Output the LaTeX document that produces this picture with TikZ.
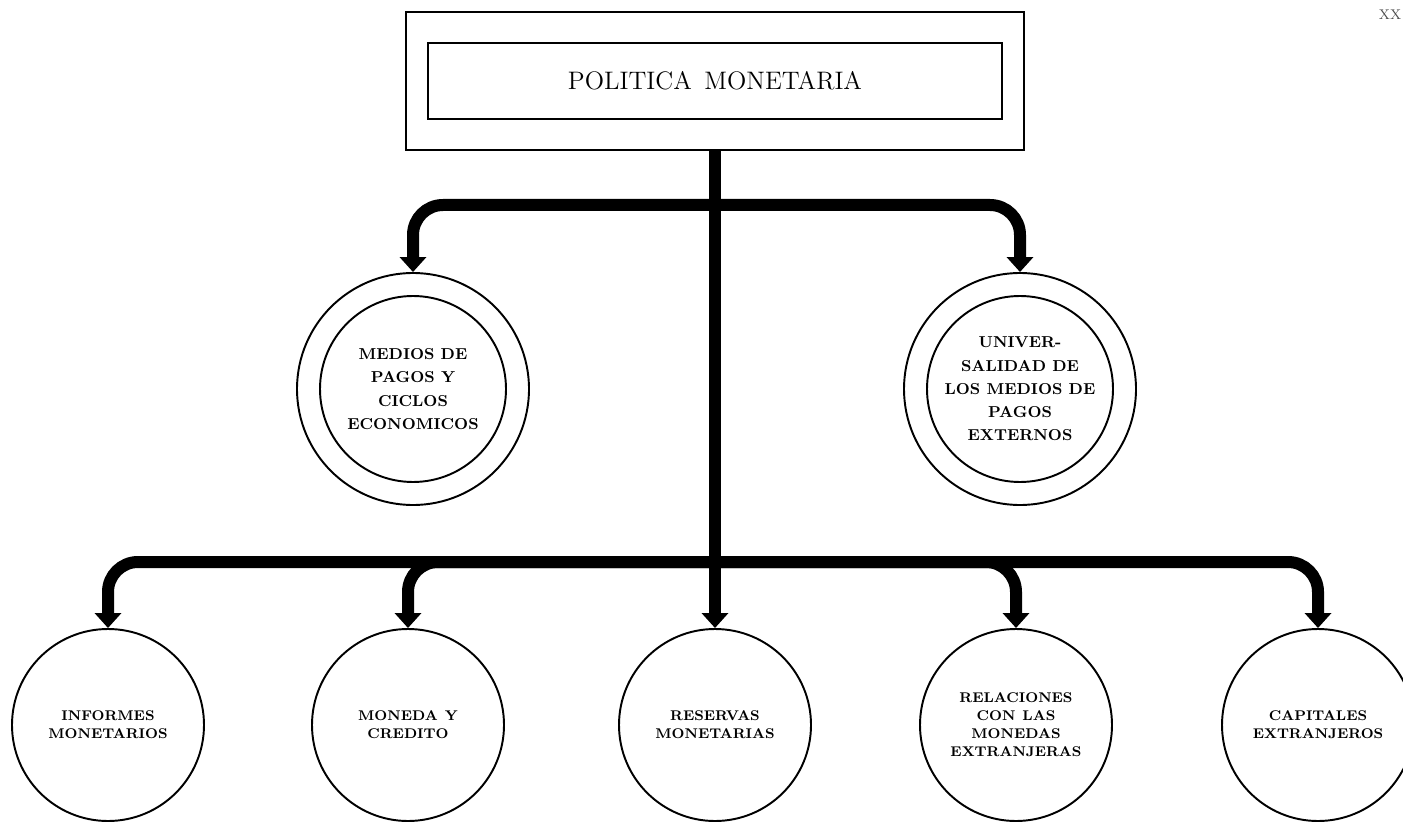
\documentclass[tikz,border=0pt]{standalone}
\usetikzlibrary{positioning,arrows.meta}

\begin{document}
\begin{tikzpicture}[
    font=\footnotesize,
    titlebox/.style={draw, line width=1.2pt, minimum width=12.36cm, minimum height=2.76cm},
    innerbox/.style={draw, line width=1.2pt, minimum width=11.48cm, minimum height=1.52cm, font=\Large},
    ring/.style={draw, circle, line width=1.1pt, minimum size=4.64cm, inner sep=0pt},
    core/.style={draw, circle, line width=1.1pt, minimum size=3.72cm, inner sep=0pt,
      align=center, font=\small\bfseries\linespread{1.2}\selectfont},
    leaf/.style={draw, circle, line width=1.1pt, minimum size=3.84cm, inner sep=0pt,
      align=center, font=\footnotesize\bfseries\linespread{1.08}\selectfont},
    arr/.style={-{Triangle[width=0.52cm,length=0.3cm]}, line width=0.24cm, rounded corners=0.6cm}
  ]
  \useasboundingbox (0,0) rectangle (28.06,16.5);

  % title
  \node[titlebox] (pmout) at (14.3,14.88) {};
  \node[innerbox] (pm) at (pmout) {POLITICA\enskip MONETARIA};

  % upper level
  \node[ring] (medios) at (8.26,8.72) {};
  \node[core] (mediosin) at (medios) {MEDIOS DE\\PAGOS Y\\CICLOS\\ECONOMICOS};
  \node[ring] (univ) at (20.4,8.72) {};
  \node[core] (univin) at (univ) {UNIVER-\\SALIDAD DE\\LOS MEDIOS DE\\PAGOS\\EXTERNOS};

  % lower level
  \node[leaf] (informes) at (2.16,2.0) {INFORMES\\MONETARIOS};
  \node[leaf] (moneda) at (8.16,2.0) {MONEDA\enskip Y\\CREDITO};
  \node[leaf] (reservas) at (14.3,2.0) {RESERVAS\\MONETARIAS};
  \node[leaf] (relaciones) at (20.32,2.0) {RELACIONES\\CON\enskip LAS\\MONEDAS\\EXTRANJERAS};
  \node[leaf] (capitales) at (26.36,2.0) {CAPITALES\\EXTRANJEROS};

  \node[font=\footnotesize, text=black!70] (folio) at (27.8,16.2) {XX};

  % connectors
  \coordinate (j1) at (14.3,12.4);
  \coordinate (j2) at (14.3,5.26);
  \draw[arr] (pmout.south) -- (reservas);
  \draw[arr] (j1) -| (medios);
  \draw[arr] (j1) -| (univ);
  \draw[arr] (j2) -| (informes);
  \draw[arr] (j2) -| (moneda);
  \draw[arr] (j2) -| (relaciones);
  \draw[arr] (j2) -| (capitales);
\end{tikzpicture}
\end{document}
